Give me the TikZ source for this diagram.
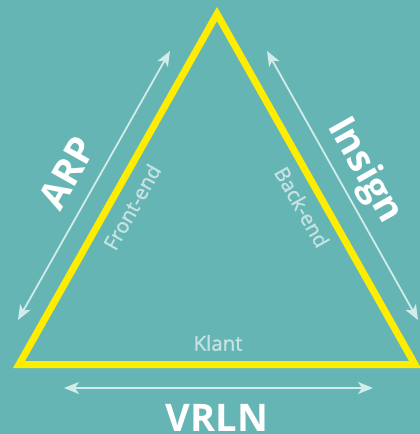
\documentclass[tikz,border=0pt]{standalone}
\usepackage{fontspec}
\setmainfont{Open Sans}
\newfontfamily\softfont[FakeBold=1.3]{Open Sans}
\usetikzlibrary{arrows.meta,calc}
\definecolor{bgteal}{HTML}{66B5B5}
\definecolor{triyellow}{HTML}{FFED00}
\definecolor{arrowgray}{HTML}{D2EBEB}
\definecolor{softtext}{HTML}{C6E2E2}
\newcommand{\tiphead}{Stealth[length=15pt,width=12pt,inset=4pt]}
\tikzset{
    tristy/.style={draw=triyellow,line width=7pt,line join=miter},
    arrsty/.style={draw=arrowgray,line width=1.8pt,{\tiphead}-{\tiphead}},
    bigsty/.style={text=white,inner sep=0pt,font=\fontsize{38}{38}\selectfont\bfseries},
    smallsty/.style={text=softtext,inner sep=0pt,font=\softfont\fontsize{20.5}{20.5}\selectfont},
}

\begin{document}
\begin{tikzpicture}[x=1pt,y=-1pt]
  \fill[bgteal] (0,0) rectangle (420,434);
  \useasboundingbox (0,0) rectangle (420,434);

  % triangle corners
  \coordinate (top)   at (217,14);
  \coordinate (left)  at (19,364.5);
  \coordinate (right) at (415,364.5);
  \draw[tristy] (top) -- (left) -- (right) -- cycle;

  % arrow ends
  \coordinate (al1) at (18,320);
  \coordinate (al2) at (170,51);
  \coordinate (ar1) at (267,51);
  \coordinate (ar2) at (418,320);
  \coordinate (ab1) at (64,388);
  \coordinate (ab2) at (373,388);
  \draw[arrsty] (al1) -- (al2);
  \draw[arrsty] (ar1) -- (ar2);
  \draw[arrsty] (ab1) -- (ab2);

  % labels
  \node[bigsty,rotate=60.5]  (arp)    at (67,173)  {ARP};
  \node[bigsty,rotate=-60.5] (insign) at (364,171) {Insign};
  \node[bigsty]              (vrln)   at (217,418) {VRLN};
  \node[smallsty,rotate=60.5]  (front) at (132,207) {Front-end};
  \node[smallsty,rotate=-60.5] (back)  at (302,207) {Back-end};
  \node[smallsty]              (klant) at (218,343) {Klant};
\end{tikzpicture}
\end{document}
